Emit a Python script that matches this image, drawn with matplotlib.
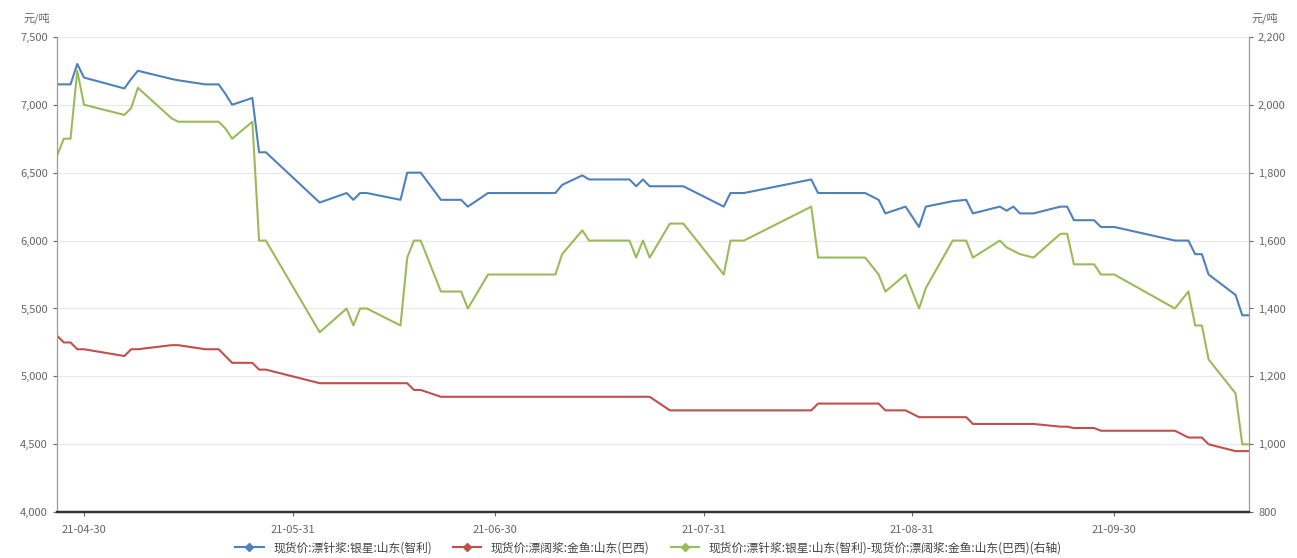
import pandas as pd
import matplotlib
matplotlib.use("Agg")
import matplotlib.pyplot as plt
import matplotlib.dates as mdates
from matplotlib.ticker import FuncFormatter, MultipleLocator

plt.rcParams['font.family'] = ['Noto Sans CJK SC', 'DejaVu Sans']

# -----------------------------------------
# DATA
# -----------------------------------------

dates = ["2021-04-26", "2021-04-27", "2021-04-28", "2021-04-29", "2021-04-30",
         "2021-05-06", "2021-05-07", "2021-05-08", "2021-05-13", "2021-05-14",
         "2021-05-18", "2021-05-20", "2021-05-21", "2021-05-22", "2021-05-25",
         "2021-05-26", "2021-05-27", "2021-06-04", "2021-06-08", "2021-06-09",
         "2021-06-10", "2021-06-11", "2021-06-16", "2021-06-17", "2021-06-18",
         "2021-06-19", "2021-06-22", "2021-06-25", "2021-06-26", "2021-06-29",
         "2021-07-09", "2021-07-10", "2021-07-13", "2021-07-14", "2021-07-20",
         "2021-07-21", "2021-07-22", "2021-07-23", "2021-07-26", "2021-07-28",
         "2021-07-30", "2021-08-03", "2021-08-04", "2021-08-06", "2021-08-16",
         "2021-08-17", "2021-08-24", "2021-08-26", "2021-08-27", "2021-08-30",
         "2021-09-01", "2021-09-02", "2021-09-06", "2021-09-08", "2021-09-09",
         "2021-09-13", "2021-09-14", "2021-09-15", "2021-09-16", "2021-09-18",
         "2021-09-22", "2021-09-23", "2021-09-24", "2021-09-27", "2021-09-28",
         "2021-09-30", "2021-10-09", "2021-10-11", "2021-10-12", "2021-10-13",
         "2021-10-14", "2021-10-18", "2021-10-19", "2021-10-20"]

# 漂针浆 银星 山东(智利)
softwood = [7150, 7150, 7150, 7300, 7200,
            7120, 7190, 7250, 7190, 7180,
            7150, 7150, 7080, 7000, 7050,
            6650, 6650, 6280, 6350, 6300,
            6350, 6350, 6300, 6500, 6500,
            6500, 6300, 6300, 6250, 6350,
            6350, 6410, 6480, 6450, 6450,
            6400, 6450, 6400, 6400, 6400,
            6350, 6250, 6350, 6350, 6450,
            6350, 6350, 6300, 6200, 6250,
            6100, 6250, 6290, 6300, 6200,
            6250, 6220, 6250, 6200, 6200,
            6250, 6250, 6150, 6150, 6100,
            6100, 6000, 6000, 5900, 5900,
            5750, 5600, 5450, 5450]

# 漂阔浆 金鱼 山东(巴西)
hardwood = [5300, 5250, 5250, 5200, 5200,
            5150, 5200, 5200, 5230, 5230,
            5200, 5200, 5150, 5100, 5100,
            5050, 5050, 4950, 4950, 4950,
            4950, 4950, 4950, 4950, 4900,
            4900, 4850, 4850, 4850, 4850,
            4850, 4850, 4850, 4850, 4850,
            4850, 4850, 4850, 4750, 4750,
            4750, 4750, 4750, 4750, 4750,
            4800, 4800, 4800, 4750, 4750,
            4700, 4700, 4700, 4700, 4650,
            4650, 4650, 4650, 4650, 4650,
            4630, 4630, 4620, 4620, 4600,
            4600, 4600, 4550, 4550, 4550,
            4500, 4450, 4450, 4450]

# spread, right axis
spread = [1850, 1900, 1900, 2100, 2000,
          1970, 1990, 2050, 1960, 1950,
          1950, 1950, 1930, 1900, 1950,
          1600, 1600, 1330, 1400, 1350,
          1400, 1400, 1350, 1550, 1600,
          1600, 1450, 1450, 1400, 1500,
          1500, 1560, 1630, 1600, 1600,
          1550, 1600, 1550, 1650, 1650,
          1600, 1500, 1600, 1600, 1700,
          1550, 1550, 1500, 1450, 1500,
          1400, 1460, 1600, 1600, 1550,
          1600, 1580, 1570, 1560, 1550,
          1620, 1620, 1530, 1530, 1500,
          1500, 1400, 1450, 1350, 1350,
          1250, 1150, 1000, 1000]

labels = ["现货价:漂针浆:银星:山东(智利)",
          "现货价:漂阔浆:金鱼:山东(巴西)",
          "现货价:漂针浆:银星:山东(智利)-现货价:漂阔浆:金鱼:山东(巴西)(右轴)"]

tick_dates = ["2021-04-30", "2021-05-31", "2021-06-30", "2021-07-31", "2021-08-31", "2021-09-30"]

x = pd.to_datetime(dates)

# -----------------------------------------
# PLOT
# -----------------------------------------

fig = plt.figure(figsize=(12.97, 5.58), dpi=100)
ax = fig.add_axes([0.044, 0.082, 0.919, 0.852])
ax2 = ax.twinx()

ax.plot(x, softwood, color="#4F81BD", lw=1.5, label=labels[0])
ax.plot(x, hardwood, color="#C0504D", lw=1.5, label=labels[1])
ax2.plot(x, spread, color="#9BBB59", lw=1.5, label=labels[2])

ax.set_ylim(4000, 7500)
ax2.set_ylim(800, 2200)
ax.yaxis.set_major_locator(MultipleLocator(500))
ax2.yaxis.set_major_locator(MultipleLocator(200))
fmt = FuncFormatter(lambda v, p: f"{v:,.0f}")
ax.yaxis.set_major_formatter(fmt)
ax2.yaxis.set_major_formatter(fmt)

ax.set_xlim(x[0], x[-1])
ax.set_xticks(pd.to_datetime(tick_dates))
ax.xaxis.set_major_formatter(mdates.DateFormatter("%y-%m-%d"))

ax.grid(axis="y", color="#E8E8E8", lw=0.8)
ax.set_axisbelow(True)

for a in (ax, ax2):
    a.spines["top"].set_visible(False)
    a.spines["left"].set_color("#9A9A9A")
    a.spines["right"].set_color("#9A9A9A")
    a.spines["bottom"].set_color("#333333")
    a.spines["bottom"].set_linewidth(1.6)
    a.tick_params(labelsize=8, colors="#666666", length=3, width=0.8)
ax.tick_params(axis="x", pad=6)

fig.text(0.028, 0.962, "元/吨", fontsize=8, color="#666666", ha="center")
fig.text(0.975, 0.962, "元/吨", fontsize=8, color="#666666", ha="center")

# legend with line + diamond markers
handles = []
for c, lab in zip(["#4F81BD", "#C0504D", "#9BBB59"], labels):
    h, = ax.plot([], [], color=c, lw=1.5, marker="D", markersize=4, label=lab)
    handles.append(h)
fig.legend(handles=handles, loc="lower center", bbox_to_anchor=(0.5, -0.012), ncol=3,
           frameon=False, fontsize=8.5, handlelength=2.4, columnspacing=1.8,
           labelcolor="#444444")

fig.savefig("out.png", dpi=100)
